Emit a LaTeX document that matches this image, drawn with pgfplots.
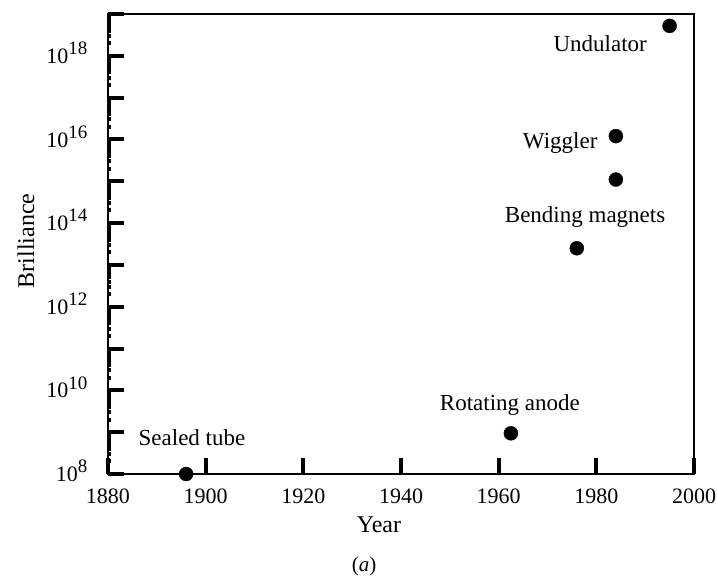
\documentclass[border=0pt]{standalone}
\usepackage{fontspec}
\setmainfont{Liberation Serif}
\usepackage{pgfplots}
\pgfplotsset{compat=1.18}
\newcommand{\pw}[1]{10\raisebox{0.4em}{\fontsize{19}{19}\selectfont #1}}
\begin{document}
\begin{tikzpicture}[x=1pt,y=1pt]
\path[use as bounding box] (0,0) rectangle (717,576);
\begin{axis}[
  at={(108pt,102pt)}, anchor=south west,
  width=586pt, height=460pt, scale only axis,
  xmin=1880, xmax=2000,
  ymode=log, ymin=1e8, ymax=1e19,
  xtick={1880,1900,1920,1940,1960,1980,2000},
  xticklabels={1880,1900,1920,1940,1960,1980,2000},
  ytick={1e8,1e9,1e10,1e11,1e12,1e13,1e14,1e15,1e16,1e17,1e18,1e19},
  yticklabels={\pw{8},{},\pw{10},{},\pw{12},{},\pw{14},{},\pw{16},{},\pw{18},{}},
  xtick pos=bottom, ytick pos=left,
  tick align=inside,
  major tick length=16pt,
  every tick/.style={black, line width=4pt},
  axis line style={line width=1.4pt},
  /pgf/number format/assume math mode=true,
  ticklabel style={font=\fontsize{22}{22}\selectfont},
  xticklabel style={yshift=-11pt},
  yticklabel style={xshift=-17pt, yshift=3pt},
  xlabel={Year}, ylabel={Brilliance},
  xlabel style={font=\fontsize{24}{24}\selectfont, at={(axis description cs:0.4625,-0.111)}, anchor=center},
  ylabel style={font=\fontsize{24}{24}\selectfont, at={(axis description cs:-0.14,0.507)}, anchor=center},
  clip=false,
]
\addplot[only marks, mark=*, mark size=7pt, black] coordinates {
  (1896,1e8) (1962.5,9.4e8) (1976,2.5e13) (1984,1.2e16) (1984,1.1e15) (1995,5.2e18)
};
\node[font=\fontsize{23}{23}\selectfont] at (axis cs:1980.8,2.0e18) {Undulator};
\node[font=\fontsize{23}{23}\selectfont] at (axis cs:1972.6,8.3e15) {Wiggler};
\node[font=\fontsize{23}{23}\selectfont] at (axis cs:1977.7,1.4e14) {Bending magnets};
\node[font=\fontsize{23}{23}\selectfont] at (axis cs:1962.3,4.5e9) {Rotating anode};
\node[font=\fontsize{23}{23}\selectfont] at (axis cs:1897.2,7.3e8) {Sealed tube};
\node[font=\fontsize{21}{21}\selectfont] at (axis description cs:0.437,-0.202) {(\textit{a})};
\end{axis}
\end{tikzpicture}
\end{document}
